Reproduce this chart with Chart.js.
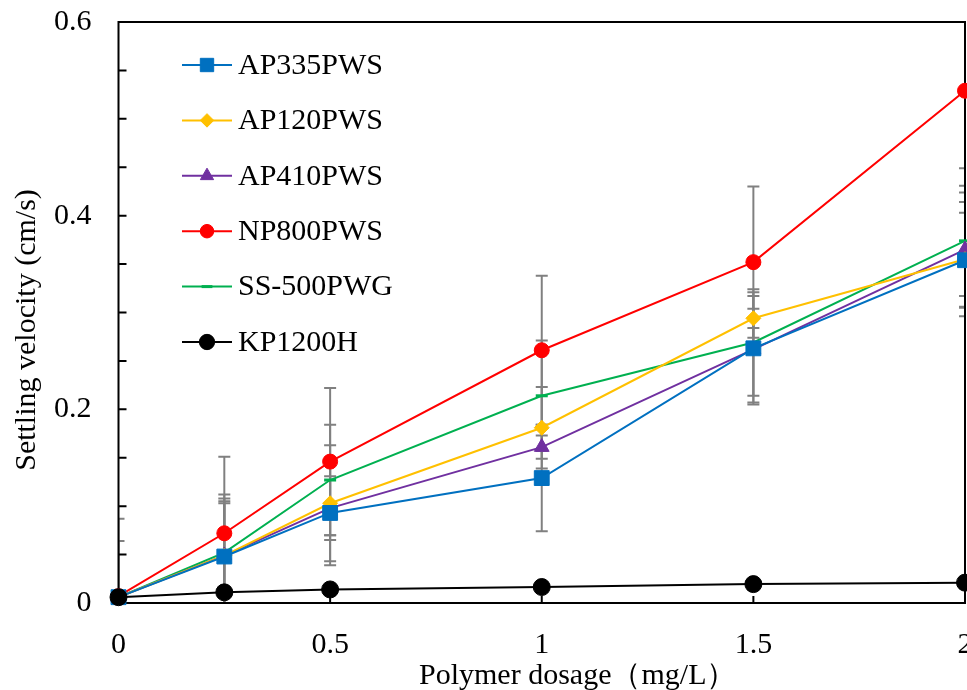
<!DOCTYPE html>
<html>
<head>
<meta charset="utf-8">
<script src="https://cdn.jsdelivr.net/npm/chart.js@4.4.1/dist/chart.umd.min.js"></script>
<style>
  html, body { margin: 0; padding: 0; background: #fff; overflow: hidden; }
  #wrap { width: 967px; height: 690px; overflow: hidden; }
</style>
</head>
<body>
<div id="wrap"><canvas id="myChart" width="990" height="700"></canvas></div>
<script>
const dosage = [0, 0.25, 0.5, 1, 1.5, 2];

const ap335 = [0.006, 0.048, 0.093, 0.129, 0.263, 0.354];
const ap120 = [0.006, 0.049, 0.103, 0.181, 0.294, 0.355];
const ap410 = [0.006, 0.049, 0.098, 0.161, 0.262, 0.365];
const np800 = [0.007, 0.072, 0.146, 0.261, 0.352, 0.529];
const ss500 = [0.006, 0.052, 0.127, 0.214, 0.269, 0.374];
const kp1200 = [0.006, 0.011, 0.014, 0.0165, 0.0195, 0.021];

// half length of the grey error bars
const ap335Err = [0, 0.060, 0.054, 0.055, 0.058, 0.049];
const ap120Err = [0, 0.056, 0.060, 0.042, 0.010, 0.059];
const ap410Err = [0, 0.054, 0.033, 0.012, 0.055, 0.059];
const np800Err = [0.080, 0.079, 0.076, 0.077, 0.078, 0.080];
const ss500Err = [0.058, 0.060, 0.057, 0.057, 0.055, 0.057];
const kp1200Err = [0, 0, 0, 0, 0, 0];

const xTicks = [0, 0.5, 1, 1.5, 2];
const yLabels = [0, 0.2, 0.4, 0.6];

const serif = '"Liberation Serif", "Times New Roman", serif';

function pts(arr) {
    return dosage.map((x, i) => ({ x: x, y: arr[i] }));
}

function series(label, arr, err, color, style, radius, bw) {
    return {
        label: label,
        data: pts(arr),
        err: err,
        borderColor: color,
        backgroundColor: color,
        borderWidth: 2,
        pointStyle: style,
        pointRadius: radius,
        pointHoverRadius: radius,
        pointBorderWidth: bw,
        tension: 0,
        clip: false
    };
}

const datasets = [
    series('KP1200H', kp1200, kp1200Err, '#000000', 'circle', 8.5, 1),
    series('AP335PWS', ap335, ap335Err, '#0070C0', 'rect', 10.5, 1),
    series('AP120PWS', ap120, ap120Err, '#FFC000', 'rectRot', 7.5, 1),
    series('AP410PWS', ap410, ap410Err, '#7030A0', 'triangle', 8.5, 1),
    series('SS-500PWG', ss500, ss500Err, '#00B050', 'line', 6, 3),
    series('NP800PWS', np800, np800Err, '#FF0000', 'circle', 7.5, 1)
];
const legendOrder = ['AP335PWS', 'AP120PWS', 'AP410PWS', 'NP800PWS', 'SS-500PWG', 'KP1200H'];

const decor = {
    id: 'decor',
    beforeDatasetsDraw(chart) {
        const { ctx, chartArea: a, scales: { x, y } } = chart;
        ctx.save();
        ctx.beginPath();
        ctx.rect(a.left, a.top, a.right - a.left, a.bottom - a.top);
        ctx.clip();
        ctx.strokeStyle = '#808080';
        ctx.lineWidth = 2;
        chart.data.datasets.forEach(ds => {
            ds.data.forEach((p, i) => {
                const e = ds.err[i];
                if (!e) return;
                const px = x.getPixelForValue(p.x);
                const top = y.getPixelForValue(p.y + e);
                const bot = y.getPixelForValue(p.y - e);
                ctx.beginPath();
                ctx.moveTo(px, top); ctx.lineTo(px, bot);
                ctx.moveTo(px - 6, top); ctx.lineTo(px + 6, top);
                ctx.moveTo(px - 6, bot); ctx.lineTo(px + 6, bot);
                ctx.stroke();
            });
        });
        ctx.restore();

        // frame and inward tick marks
        ctx.save();
        ctx.strokeStyle = '#000';
        ctx.lineWidth = 2;
        ctx.strokeRect(a.left, a.top, a.right - a.left, a.bottom - a.top);
        ctx.beginPath();
        y.ticks.forEach(t => {
            const py = y.getPixelForValue(t.value);
            ctx.moveTo(a.left, py); ctx.lineTo(a.left + 8, py);
        });
        xTicks.forEach(v => {
            const px = x.getPixelForValue(v);
            ctx.moveTo(px, a.bottom); ctx.lineTo(px, a.bottom - 7);
        });
        ctx.stroke();
        ctx.restore();
    },
    afterDraw(chart) {
        const ctx = chart.ctx;
        ctx.save();
        ctx.fillStyle = '#000';
        ctx.font = '30px ' + serif;

        // axis titles
        ctx.textAlign = 'left';
        ctx.textBaseline = 'alphabetic';
        ctx.fillText('Polymer dosage（mg/L）', 419, 684);
        ctx.save();
        ctx.translate(27, 330);
        ctx.rotate(-Math.PI / 2);
        ctx.textAlign = 'center';
        ctx.textBaseline = 'middle';
        ctx.fillText('Settling velocity (cm/s)', 0, 0);
        ctx.restore();

        // legend
        const lx = 207, ly = 65, gap = 55.4;
        legendOrder.forEach((name, i) => {
            const ds = chart.data.datasets.find(d => d.label === name);
            const cy = ly + i * gap;
            ctx.strokeStyle = ds.borderColor;
            ctx.fillStyle = ds.backgroundColor;
            ctx.lineWidth = 2;
            ctx.beginPath();
            ctx.moveTo(lx - 25, cy); ctx.lineTo(lx + 25, cy);
            ctx.stroke();
            ctx.lineWidth = ds.pointBorderWidth;
            Chart.helpers.drawPoint(ctx, {
                pointStyle: ds.pointStyle,
                radius: ds.pointRadius * 0.9,
                borderWidth: ds.pointBorderWidth,
                rotation: 0
            }, lx, cy);
            ctx.fillStyle = '#000';
            ctx.textAlign = 'left';
            ctx.textBaseline = 'middle';
            ctx.fillText(name, lx + 31, cy + 1);
        });
        ctx.restore();
    }
};

new Chart(document.getElementById('myChart'), {
    type: 'line',
    data: { datasets: datasets },
    options: {
        responsive: false,
        animation: false,
        events: [],
        layout: { padding: { left: 52, top: 22, right: 25, bottom: 35 } },
        plugins: { legend: { display: false }, tooltip: { enabled: false } },
        scales: {
            x: {
                type: 'linear',
                min: 0,
                max: 2,
                grid: { display: false, drawTicks: true, tickLength: 22 },
                border: { display: false },
                afterBuildTicks: s => { s.ticks = xTicks.map(v => ({ value: v })); },
                ticks: {
                    autoSkip: false,
                    maxRotation: 0,
                    padding: 2,
                    color: '#000',
                    font: { family: serif, size: 30 },
                    callback: v => String(v)
                }
            },
            y: {
                min: 0,
                max: 0.6,
                grid: { display: false, drawTicks: true, tickLength: 25 },
                border: { display: false },
                ticks: {
                    stepSize: 0.05,
                    autoSkip: false,
                    padding: 2,
                    color: '#000',
                    font: { family: serif, size: 30 },
                    callback: v => {
                        const hit = yLabels.find(l => Math.abs(l - v) < 1e-6);
                        return hit === undefined ? '' : String(hit);
                    }
                }
            }
        }
    },
    plugins: [decor]
});
</script>
</body>
</html>
